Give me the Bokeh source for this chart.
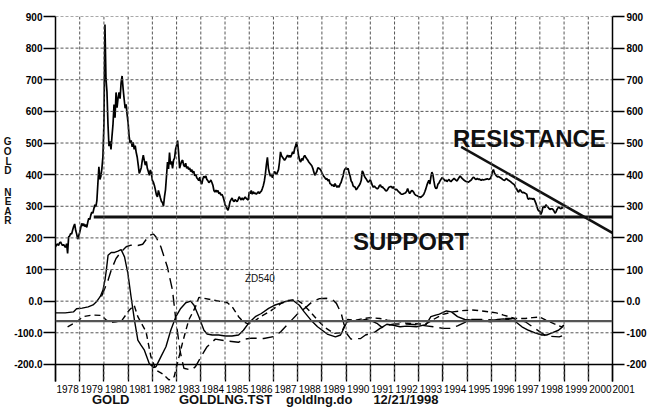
from bokeh.plotting import figure
from bokeh.models import FixedTicker, LinearAxis, Span, Label, Range1d
from bokeh.embed import file_html
from bokeh.resources import INLINE

# ---------------- data ----------------
# gold price, 24 samples per year, 1978 .. 1998
p1978 = [172,178,181,176,184,187,181,176,179,174,170,182,151,203,206,214,212,225,236,244,224,212,196,207]
p1979 = [218,232,246,238,245,236,242,233,250,262,258,272,282,278,292,305,298,318,372,425,385,395,420,458]
p1980 = [560,875,705,662,560,490,505,480,522,560,622,580,660,612,642,660,640,690,712,672,640,610,622,590]
p1981 = [562,520,500,508,488,502,480,492,470,455,430,404,412,422,445,462,445,430,442,420,410,398,415,405]
p1982 = [382,376,366,352,336,330,350,338,326,315,312,300,330,352,395,440,418,470,432,442,420,446,452,480]
p1983 = [492,508,470,420,432,442,446,430,425,436,420,426,416,421,410,416,405,411,396,401,390,386,381,392]
p1984 = [375,370,386,395,390,396,385,381,375,378,383,375,366,350,345,351,345,350,340,343,335,338,330,320]
p1985 = [305,300,292,287,300,315,321,326,318,315,321,318,315,321,330,325,320,327,320,325,329,325,322,320]
p1986 = [345,340,350,338,346,340,342,338,342,346,340,345,348,356,366,380,402,432,455,420,405,395,402,390]
p1987 = [402,410,405,400,408,416,440,472,460,455,450,445,450,456,462,455,461,455,463,472,466,482,492,503]
p1988 = [480,458,445,440,451,445,456,461,455,450,446,440,436,432,428,420,408,398,404,410,422,420,418,414]
p1989 = [405,400,394,390,385,388,380,385,372,370,365,368,362,372,365,360,365,360,370,375,386,396,412,418]
p1990 = [422,416,420,405,395,380,375,364,362,360,352,356,362,366,372,382,412,406,396,390,386,380,376,380]
p1991 = [384,375,366,360,364,360,357,355,358,365,368,360,362,357,355,350,348,352,358,361,362,362,357,362]
p1992 = [355,352,354,350,346,344,340,338,338,340,341,343,348,356,346,340,345,350,348,344,338,335,334,332]
p1993 = [330,330,328,331,334,338,346,355,366,375,382,370,392,408,400,380,362,356,358,370,373,380,385,390]
p1994 = [388,385,380,383,378,382,385,380,378,382,385,388,385,382,380,386,391,396,392,388,385,382,380,378]
p1995 = [378,376,378,381,383,388,392,390,386,385,388,385,386,384,382,385,383,384,385,386,387,385,386,388]
p1996 = [395,410,416,405,400,396,393,394,392,390,388,385,383,382,385,388,384,382,380,378,375,372,370,367]
p1997 = [358,355,348,345,352,350,345,343,344,342,340,338,325,322,326,323,325,322,325,318,310,300,290,285]
p1998 = [285,274,282,296,300,295,305,300,298,293,290,292,292,290,285,278,282,290,295,298,294,292,296,293]
price_years = list(range(1978, 1999))
samples_per_year = 24

# ZD540 oscillators: fast (solid), medium (long dash), slow (short dash)
fast_x = [1978.0,1978.4,1978.74,1978.87,1979.1,1979.35,1979.55,1979.69,1979.85,1979.96,1980.05,1980.1,1980.17,
          1980.3,1980.44,1980.58,1980.71,1980.85,1980.99,1981.12,1981.26,1981.4,1981.53,1981.67,1981.87,1982.05,
          1982.15,1982.35,1982.56,1982.76,1982.97,1983.17,1983.38,1983.58,1983.72,1983.92,1984.13,1984.26,1984.47,
          1984.74,1985.01,1985.29,1985.56,1985.76,1985.97,1986.25,1986.5,1986.8,1987.04,1987.45,1987.8,1988.07,
          1988.27,1988.55,1988.82,1989.22,1989.56,1989.77,1990.04,1990.25,1990.5,1990.8,1991.07,1991.27,1991.48,
          1991.68,1991.95,1992.23,1992.5,1992.9,1993.3,1993.5,1993.7,1993.85,1994.14,1994.35,1994.6,1994.9,
          1995.24,1995.65,1995.97,1996.25,1996.5,1996.8,1997.0,1997.26,1997.53,1997.8,1998.08,1998.28,1998.5,
          1998.77,1998.97]
fast_y = [-37,-37,-34,-24,-22,-18,-12,-2,15,35,70,98,145,
          154,154,158,163,140,87,14,-60,-123,-139,-155,-197,-210,
          -207,-176,-144,-92,-49,-23,-5,0,-13,-49,-92,-104,-107,
          -107,-110,-110,-107,-92,-70,-49,-39,-23,-13,-2,3,-13,
          -34,-60,-81,-104,-113,-107,-65,-63,-63,-58,-63,-70,-83,
          -73,-76,-81,-79,-81,-74,-49,-44,-41,-31,-34,-49,-58,
          -60,-61,-65,-58,-56,-60,-65,-81,-92,-100,-107,-107,-100,
          -92,-79]

mid_x = [1979.9,1980.17,1980.3,1980.5,1980.71,1980.92,1981.12,1981.4,1981.6,1981.87,1982.05,1982.15,1982.35,
         1982.62,1982.83,1982.97,1983.15,1983.3,1983.6,1983.78,1984.05,1984.26,1984.6,1985.0,1985.55,1985.8,
         1986.1,1986.6,1987.0,1987.3,1987.55,1987.75,1988.0,1988.3,1988.6,1988.9,1989.2,1989.45,1989.6,1989.8,
         1990.0,1990.2,1990.6,1990.8,1991.2,1991.4,1991.7,1992.0,1992.5,1993.0,1993.3,1993.6,1994.0,1994.3,
         1994.6,1994.96,1995.1,1995.8,1996.2,1996.6,1996.9,1997.4,1997.7,1998.1,1998.25,1998.8,1999.0]
mid_y = [15,66,98,135,156,172,177,176,180,208,212,203,172,
         108,35,-60,-160,-212,-218,-207,-170,-144,-120,-125,-130,-120,
         -117,-118,-112,-97,-76,-60,-40,-22,-2,8,9,4,-7,-39,
         -100,-120,-118,-107,-97,-86,-76,-72,-72,-75,-78,-81,-86,-86,
         -78,-65,-58,-58,-60,-55,-55,-65,-81,-102,-110,-113,-107]

slow_x = [1978.5,1978.87,1979.15,1979.5,1979.9,1980.1,1980.3,1980.5,1980.75,1981.05,1981.25,1981.4,1981.74,
          1981.94,1982.15,1982.42,1982.69,1982.9,1983.0,1983.25,1983.5,1983.78,1983.92,1984.4,1984.75,1985.1,
          1985.3,1985.56,1985.75,1985.95,1986.15,1986.4,1986.9,1987.3,1987.6,1987.95,1988.2,1988.5,1988.8,
          1989.1,1989.5,1989.8,1990.06,1990.4,1990.7,1991.0,1991.4,1991.7,1992.25,1992.5,1993.07,1993.3,1993.6,
          1994.0,1994.4,1994.8,1995.2,1995.5,1996.2,1996.5,1997.0,1997.4,1997.7,1998.0,1998.25,1998.6,1998.9,1999.0]
slow_y = [-81,-65,-49,-44,-45,-60,-67,-65,-60,-28,-13,-49,-97,
          -176,-218,-230,-249,-239,-207,-130,-60,-18,12,5,0,-5,
          -18,-49,-65,-72,-68,-52,-30,-8,2,5,-8,-32,-58,
          -82,-102,-100,-58,-60,-55,-52,-55,-60,-65,-70,-72,-72,-58,
          -42,-34,-30,-28,-30,-37,-44,-55,-55,-52,-50,-60,-72,-81,-76]

support_x = [1979.58, 2001.15]
support_y = [266, 266]
resistance_x = [1994.75, 2001.43]
resistance_y = [488, 197]
osc_reference_level = -63

y_tick_values = [-200, -100, 0, 100, 200, 300, 400, 500, 600, 700, 800, 900]
left_tick_labels = {-200: "-200.0", -100: "-100.0", 0: "0.0"}
right_tick_labels = {-200: "-200", -100: "-100", 0: "0.0"}
year_labels = list(range(1978, 2001))
year_bounds = list(range(1978, 2002))
last_year = 2001
side_title_letters = ["G", "O", "L", "D", "N", "E", "A", "R"]
footer_texts = ["GOLD", "GOLDLNG.TST", "goldlng.do", "12/21/1998"]

# ---------------- build ----------------
price_x, price_y = [], []
series = [p1978, p1979, p1980, p1981, p1982, p1983, p1984, p1985, p1986, p1987, p1988,
          p1989, p1990, p1991, p1992, p1993, p1994, p1995, p1996, p1997, p1998]
for yr, vals in zip(price_years, series):
    for i, v in enumerate(vals):
        price_x.append(yr + i / samples_per_year)
        price_y.append(v)

FONT = "Liberation Sans"
NB = "\u00a0"

p = figure(width=649, height=410, x_range=Range1d(1978, 2001), y_range=Range1d(-254, 900),
           output_backend="svg", toolbar_location=None,
           min_border_left=52, min_border_right=35, min_border_top=16, min_border_bottom=29)
p.outline_line_color = None
p.grid.visible = False

# x axis: year labels centred in each year; boundary ticks drawn upward (minor ticks)
xa = p.xaxis[0]
xa.ticker = FixedTicker(ticks=[y + 0.5 for y in year_labels] + [last_year], minor_ticks=year_bounds)
overrides = {y + 0.5: str(y) for y in year_labels}
overrides[last_year] = NB * 8 + str(last_year)
xa.major_label_overrides = overrides
xa.major_tick_in = 0
xa.major_tick_out = 0
xa.minor_tick_in = 17
xa.minor_tick_out = 0
xa.minor_tick_line_color = "black"
xa.minor_tick_line_width = 1.3
xa.axis_line_color = None
xa.major_label_standoff = 2
xa.major_label_text_font = FONT
xa.major_label_text_font_size = "10px"
xa.major_label_text_color = "black"

# footer line of texts, as a second bottom axis
footer_pos = [1980.28, 1985.02, 1988.89, 1992.47]
fa = LinearAxis(ticker=FixedTicker(ticks=footer_pos, minor_ticks=[]))
fa.major_label_overrides = dict(zip(footer_pos, footer_texts))
fa.axis_line_color = None
fa.major_tick_in = 0
fa.major_tick_out = 0
fa.major_label_standoff = -6
fa.major_label_text_font = FONT
fa.major_label_text_font_size = "13px"
fa.major_label_text_font_style = "bold"
fa.major_label_text_color = "#111111"
p.add_layout(fa, "below")

ya = p.yaxis[0]
ya.ticker = FixedTicker(ticks=y_tick_values, minor_ticks=[])
ya.major_label_overrides = left_tick_labels
ya.major_tick_out = 12
ya.major_tick_in = 0
ya.major_tick_line_width = 1.5
ya.axis_line_width = 1.5
ya.major_label_standoff = 1
ya.major_label_text_font = FONT
ya.major_label_text_font_size = "10px"
ya.major_label_text_font_style = "bold"
ya.major_label_text_color = "black"

# stacked vertical title "G O L D  N E A R", as a second left axis
letter_pos = [505, 474, 442, 412, 344, 314, 284, 254]
la = LinearAxis(ticker=FixedTicker(ticks=letter_pos, minor_ticks=[]))
la.major_label_overrides = dict(zip(letter_pos, side_title_letters))
la.axis_line_color = None
la.major_tick_in = 0
la.major_tick_out = 0
la.major_label_standoff = 0
la.major_label_text_font = FONT
la.major_label_text_font_size = "10px"
la.major_label_text_font_style = "bold"
la.major_label_text_color = "#111111"
p.add_layout(la, "left")

ra = LinearAxis(ticker=FixedTicker(ticks=y_tick_values, minor_ticks=[]))
ra.major_label_overrides = right_tick_labels
ra.major_tick_out = 12
ra.major_tick_in = 0
ra.major_tick_line_width = 1.5
ra.axis_line_width = 1.5
ra.major_label_standoff = 2
ra.major_label_text_font = FONT
ra.major_label_text_font_size = "10px"
ra.major_label_text_font_style = "bold"
ra.major_label_text_color = "black"
p.add_layout(ra, "right")

# dashed grid: one span per y tick and per year boundary
for v in y_tick_values[1:]:
    p.add_layout(Span(location=v, dimension="width", line_color="#555555",
                      line_dash="3 2", line_width=1))
for yb in year_bounds[1:-1]:
    p.add_layout(Span(location=yb, dimension="height", line_color="#555555",
                      line_dash="3 2", line_width=1))

p.add_layout(Span(location=y_tick_values[0], dimension="width", line_color="black", line_width=1.5))
p.add_layout(Span(location=osc_reference_level, dimension="width", line_color="#555555", line_width=2.2))

# lines
p.line(price_x, price_y, line_color="black", line_width=1.7)
p.line(fast_x, fast_y, line_color="black", line_width=1.4)
p.line(mid_x, mid_y, line_color="black", line_width=1.4, line_dash="11 6")
p.line(slow_x, slow_y, line_color="black", line_width=1.4, line_dash="6 4")
p.line(support_x, support_y, line_color="#111111", line_width=3)
p.line(resistance_x, resistance_y, line_color="#111111", line_width=2.5)

def lab(x, y, text, size, bold=True):
    p.add_layout(Label(x=x, y=y, text=text, text_font=FONT, text_font_size=size,
                       text_font_style="bold" if bold else "normal", text_color="#111111",
                       text_align="left", text_baseline="alphabetic"))

lab(1994.41, 514, "RESISTANCE", "24px")
lab(1990.28, 188, "SUPPORT", "24px")
lab(1985.82, 72, "ZD540", "10px", bold=False)

open("out.html", "w").write(file_html(p, INLINE))
